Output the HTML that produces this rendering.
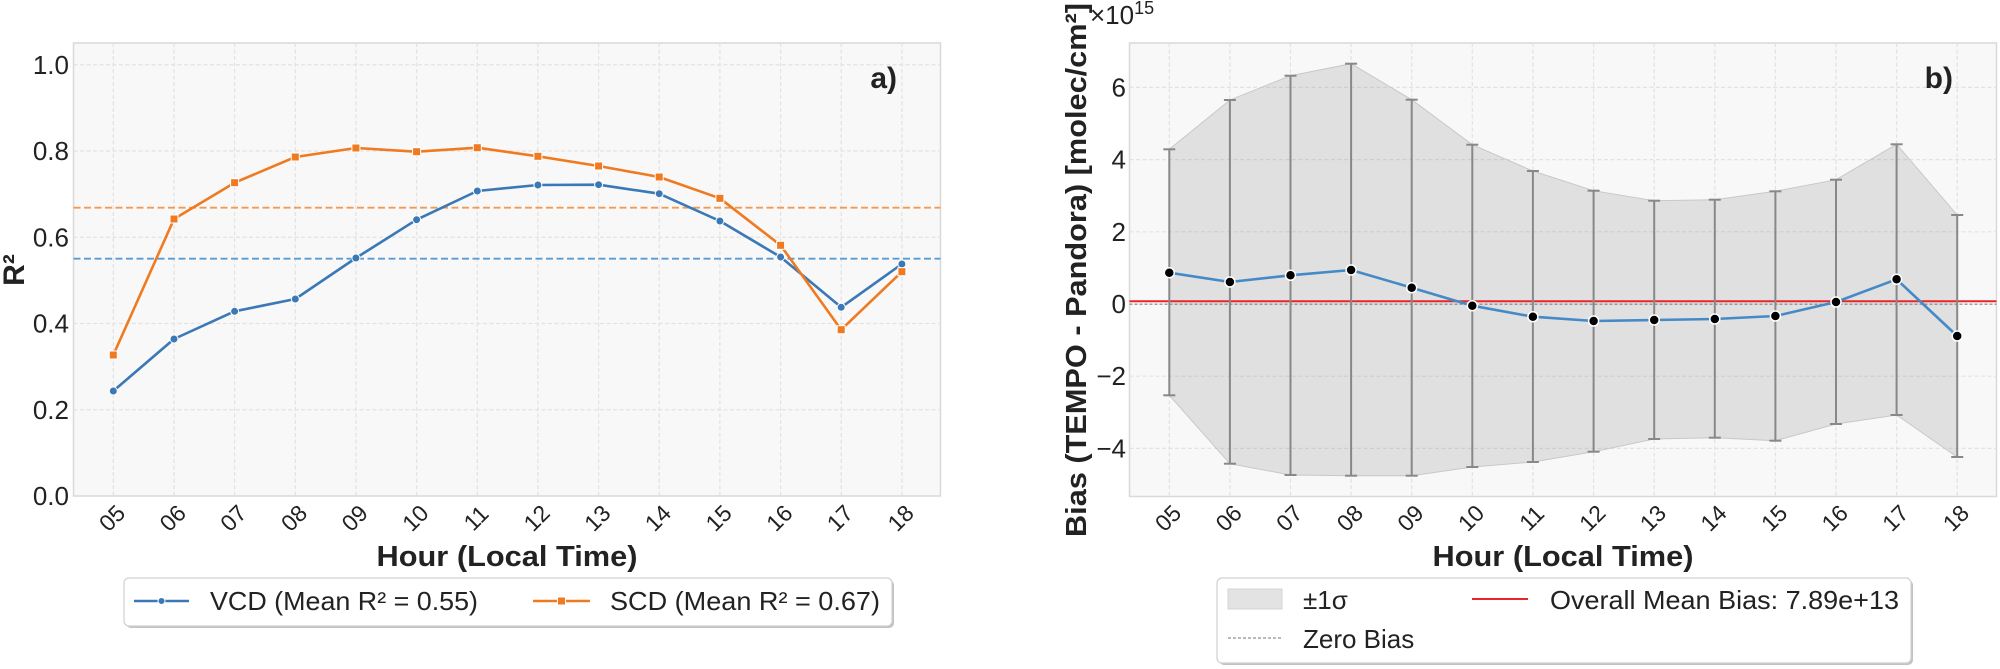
<!DOCTYPE html>
<html><head><meta charset="utf-8"><style>
html,body{margin:0;padding:0;background:#fff;}
svg{display:block;}
text{font-family:"Liberation Sans",Arial,sans-serif;fill:#222;}
</style></head><body>
<svg width="2000" height="669" viewBox="0 0 2000 669" xmlns="http://www.w3.org/2000/svg">
<rect width="2000" height="669" fill="#fff"/>

<!-- ===== LEFT PANEL ===== -->
<rect x="73.5" y="43" width="867" height="453" fill="#f8f8f8" stroke="#d9d9d9" stroke-width="1.5"/>
<g stroke="#e2e2e2" stroke-width="1.2" stroke-dasharray="4,2.5">
<line x1="73.5" x2="940.5" y1="409.75" y2="409.75"/>
<line x1="73.5" x2="940.5" y1="323.5" y2="323.5"/>
<line x1="73.5" x2="940.5" y1="237.25" y2="237.25"/>
<line x1="73.5" x2="940.5" y1="151" y2="151"/>
<line x1="73.5" x2="940.5" y1="64.75" y2="64.75"/>
<line y1="43" y2="496" x1="113.3" x2="113.3"/>
<line y1="43" y2="496" x1="174" x2="174"/>
<line y1="43" y2="496" x1="234.6" x2="234.6"/>
<line y1="43" y2="496" x1="295.3" x2="295.3"/>
<line y1="43" y2="496" x1="355.9" x2="355.9"/>
<line y1="43" y2="496" x1="416.6" x2="416.6"/>
<line y1="43" y2="496" x1="477.3" x2="477.3"/>
<line y1="43" y2="496" x1="537.9" x2="537.9"/>
<line y1="43" y2="496" x1="598.6" x2="598.6"/>
<line y1="43" y2="496" x1="659.2" x2="659.2"/>
<line y1="43" y2="496" x1="719.9" x2="719.9"/>
<line y1="43" y2="496" x1="780.6" x2="780.6"/>
<line y1="43" y2="496" x1="841.2" x2="841.2"/>
<line y1="43" y2="496" x1="901.9" x2="901.9"/>
</g>
<!-- mean lines -->
<line x1="73.5" x2="940.5" y1="207.7" y2="207.7" stroke="#f39a52" stroke-width="1.8" stroke-dasharray="7,3.5"/>
<line x1="73.5" x2="940.5" y1="258.7" y2="258.7" stroke="#5b9bd0" stroke-width="1.8" stroke-dasharray="7,3.5"/>
<!-- VCD -->
<polyline fill="none" stroke="#3a78b6" stroke-width="2.6" stroke-linejoin="round" points="113.3,391 174,339 234.6,311.3 295.3,299 355.9,258 416.6,219.7 477.3,191 537.9,185 598.6,184.7 659.2,193.7 719.9,221 780.6,257 841.2,307.3 901.9,264"/>
<g fill="#3a78b6" stroke="#fff" stroke-width="1">
<circle cx="113.3" cy="391" r="4"/><circle cx="174" cy="339" r="4"/><circle cx="234.6" cy="311.3" r="4"/><circle cx="295.3" cy="299" r="4"/><circle cx="355.9" cy="258" r="4"/><circle cx="416.6" cy="219.7" r="4"/><circle cx="477.3" cy="191" r="4"/><circle cx="537.9" cy="185" r="4"/><circle cx="598.6" cy="184.7" r="4"/><circle cx="659.2" cy="193.7" r="4"/><circle cx="719.9" cy="221" r="4"/><circle cx="780.6" cy="257" r="4"/><circle cx="841.2" cy="307.3" r="4"/><circle cx="901.9" cy="264" r="4"/>
</g>
<!-- SCD -->
<polyline fill="none" stroke="#f07a20" stroke-width="2.6" stroke-linejoin="round" points="113.3,355 174,219 234.6,182.7 295.3,157 355.9,148 416.6,151.7 477.3,147.7 537.9,156.3 598.6,166 659.2,177 719.9,198.3 780.6,245.3 841.2,329.7 901.9,271.7"/>
<g fill="#f07a20" stroke="#fff" stroke-width="1">
<rect x="109.3" y="351" width="8" height="8"/><rect x="170" y="215" width="8" height="8"/><rect x="230.6" y="178.7" width="8" height="8"/><rect x="291.3" y="153" width="8" height="8"/><rect x="351.9" y="144" width="8" height="8"/><rect x="412.6" y="147.7" width="8" height="8"/><rect x="473.3" y="143.7" width="8" height="8"/><rect x="533.9" y="152.3" width="8" height="8"/><rect x="594.6" y="162" width="8" height="8"/><rect x="655.2" y="173" width="8" height="8"/><rect x="715.9" y="194.3" width="8" height="8"/><rect x="776.6" y="241.3" width="8" height="8"/><rect x="837.2" y="325.7" width="8" height="8"/><rect x="897.9" y="267.7" width="8" height="8"/>
</g>
<text x="897" y="88" font-size="30" font-weight="bold" text-anchor="end">a)</text>
<!-- y ticks left -->
<g font-size="26" text-anchor="end">
<text x="69" y="505">0.0</text>
<text x="69" y="418.75">0.2</text>
<text x="69" y="332.5">0.4</text>
<text x="69" y="246.25">0.6</text>
<text x="69" y="160">0.8</text>
<text x="69" y="73.75">1.0</text>
</g>
<text transform="translate(24,270) rotate(-90)" font-size="30" font-weight="bold" text-anchor="middle">R²</text>
<!-- x ticks left -->
<g font-size="23" text-anchor="middle" dominant-baseline="central">
<text transform="translate(112,518) rotate(-45)">05</text>
<text transform="translate(172.7,518) rotate(-45)">06</text>
<text transform="translate(233.3,518) rotate(-45)">07</text>
<text transform="translate(294,518) rotate(-45)">08</text>
<text transform="translate(354.6,518) rotate(-45)">09</text>
<text transform="translate(415.3,518) rotate(-45)">10</text>
<text transform="translate(476,518) rotate(-45)">11</text>
<text transform="translate(536.6,518) rotate(-45)">12</text>
<text transform="translate(597.3,518) rotate(-45)">13</text>
<text transform="translate(657.9,518) rotate(-45)">14</text>
<text transform="translate(718.6,518) rotate(-45)">15</text>
<text transform="translate(779.3,518) rotate(-45)">16</text>
<text transform="translate(839.9,518) rotate(-45)">17</text>
<text transform="translate(900.6,518) rotate(-45)">18</text>
</g>
<text x="507" y="566" font-size="29" font-weight="bold" text-anchor="middle" textLength="261" lengthAdjust="spacingAndGlyphs">Hour (Local Time)</text>
<!-- left legend -->
<rect x="126" y="580" width="768" height="48" rx="5" fill="#9a9a9a" opacity="0.6"/>
<rect x="124" y="578" width="768" height="48" rx="5" fill="#fff" stroke="#d0d0d0" stroke-width="1.2"/>
<line x1="134" x2="189" y1="601" y2="601" stroke="#3a78b6" stroke-width="2.6"/>
<circle cx="161.5" cy="601" r="3.5" fill="#3a78b6" stroke="#fff" stroke-width="1"/>
<text x="210" y="610" font-size="26" textLength="268" lengthAdjust="spacingAndGlyphs">VCD (Mean R² = 0.55)</text>
<line x1="533" x2="590" y1="601" y2="601" stroke="#f07a20" stroke-width="2.6"/>
<rect x="557.5" y="597" width="8" height="8" fill="#f07a20" stroke="#fff" stroke-width="1"/>
<text x="610" y="610" font-size="26" textLength="270" lengthAdjust="spacingAndGlyphs">SCD (Mean R² = 0.67)</text>

<!-- ===== RIGHT PANEL ===== -->
<rect x="1129.5" y="43" width="867" height="453.5" fill="#f8f8f8" stroke="#d9d9d9" stroke-width="1.5"/>
<g stroke="#e2e2e2" stroke-width="1.2" stroke-dasharray="4,2.5">
<line x1="1129.5" x2="1996.5" y1="87.4" y2="87.4"/>
<line x1="1129.5" x2="1996.5" y1="159.6" y2="159.6"/>
<line x1="1129.5" x2="1996.5" y1="231.8" y2="231.8"/>
<line x1="1129.5" x2="1996.5" y1="376.2" y2="376.2"/>
<line x1="1129.5" x2="1996.5" y1="448.4" y2="448.4"/>
<line y1="43" y2="496.5" x1="1169.3" x2="1169.3"/>
<line y1="43" y2="496.5" x1="1229.9" x2="1229.9"/>
<line y1="43" y2="496.5" x1="1290.5" x2="1290.5"/>
<line y1="43" y2="496.5" x1="1351.1" x2="1351.1"/>
<line y1="43" y2="496.5" x1="1411.7" x2="1411.7"/>
<line y1="43" y2="496.5" x1="1472.3" x2="1472.3"/>
<line y1="43" y2="496.5" x1="1532.9" x2="1532.9"/>
<line y1="43" y2="496.5" x1="1593.6" x2="1593.6"/>
<line y1="43" y2="496.5" x1="1654.2" x2="1654.2"/>
<line y1="43" y2="496.5" x1="1714.8" x2="1714.8"/>
<line y1="43" y2="496.5" x1="1775.4" x2="1775.4"/>
<line y1="43" y2="496.5" x1="1836" x2="1836" />
<line y1="43" y2="496.5" x1="1896.6" x2="1896.6"/>
<line y1="43" y2="496.5" x1="1957.2" x2="1957.2"/>
</g>
<!-- sigma band -->
<polygon fill="rgba(128,128,128,0.2)" stroke="#c8c8c8" stroke-width="1" points="1169.3,149.3 1229.9,100 1290.5,75.7 1351.1,63.7 1411.7,99.7 1472.3,144.7 1532.9,171 1593.6,190.7 1654.2,200.7 1714.8,199.7 1775.4,191.3 1836,179.7 1896.6,144.3 1957.2,215 1957.2,457 1896.6,415 1836,424 1775.4,440.7 1714.8,437.7 1654.2,439 1593.6,451.7 1532.9,462 1472.3,467 1411.7,475.7 1351.1,475.7 1290.5,475 1229.9,463.7 1169.3,395.3"/>
<!-- zero & mean lines -->
<line x1="1129.5" x2="1996.5" y1="304.2" y2="304.2" stroke="#808080" stroke-width="1.2" stroke-dasharray="3,2"/>
<line x1="1129.5" x2="1996.5" y1="301.3" y2="301.3" stroke="#e8262a" stroke-width="2"/>
<!-- error bars -->
<g stroke="#888" stroke-width="2">
<line x1="1169.3" x2="1169.3" y1="149.3" y2="395.3"/><line x1="1163.3" x2="1175.3" y1="149.3" y2="149.3"/><line x1="1163.3" x2="1175.3" y1="395.3" y2="395.3"/>
<line x1="1229.9" x2="1229.9" y1="100" y2="463.7"/><line x1="1223.9" x2="1235.9" y1="100" y2="100"/><line x1="1223.9" x2="1235.9" y1="463.7" y2="463.7"/>
<line x1="1290.5" x2="1290.5" y1="75.7" y2="475"/><line x1="1284.5" x2="1296.5" y1="75.7" y2="75.7"/><line x1="1284.5" x2="1296.5" y1="475" y2="475"/>
<line x1="1351.1" x2="1351.1" y1="63.7" y2="475.7"/><line x1="1345.1" x2="1357.1" y1="63.7" y2="63.7"/><line x1="1345.1" x2="1357.1" y1="475.7" y2="475.7"/>
<line x1="1411.7" x2="1411.7" y1="99.7" y2="475.7"/><line x1="1405.7" x2="1417.7" y1="99.7" y2="99.7"/><line x1="1405.7" x2="1417.7" y1="475.7" y2="475.7"/>
<line x1="1472.3" x2="1472.3" y1="144.7" y2="467"/><line x1="1466.3" x2="1478.3" y1="144.7" y2="144.7"/><line x1="1466.3" x2="1478.3" y1="467" y2="467"/>
<line x1="1532.9" x2="1532.9" y1="171" y2="462"/><line x1="1526.9" x2="1538.9" y1="171" y2="171"/><line x1="1526.9" x2="1538.9" y1="462" y2="462"/>
<line x1="1593.6" x2="1593.6" y1="190.7" y2="451.7"/><line x1="1587.6" x2="1599.6" y1="190.7" y2="190.7"/><line x1="1587.6" x2="1599.6" y1="451.7" y2="451.7"/>
<line x1="1654.2" x2="1654.2" y1="200.7" y2="439"/><line x1="1648.2" x2="1660.2" y1="200.7" y2="200.7"/><line x1="1648.2" x2="1660.2" y1="439" y2="439"/>
<line x1="1714.8" x2="1714.8" y1="199.7" y2="437.7"/><line x1="1708.8" x2="1720.8" y1="199.7" y2="199.7"/><line x1="1708.8" x2="1720.8" y1="437.7" y2="437.7"/>
<line x1="1775.4" x2="1775.4" y1="191.3" y2="440.7"/><line x1="1769.4" x2="1781.4" y1="191.3" y2="191.3"/><line x1="1769.4" x2="1781.4" y1="440.7" y2="440.7"/>
<line x1="1836" x2="1836" y1="179.7" y2="424"/><line x1="1830" x2="1842" y1="179.7" y2="179.7"/><line x1="1830" x2="1842" y1="424" y2="424"/>
<line x1="1896.6" x2="1896.6" y1="144.3" y2="415"/><line x1="1890.6" x2="1902.6" y1="144.3" y2="144.3"/><line x1="1890.6" x2="1902.6" y1="415" y2="415"/>
<line x1="1957.2" x2="1957.2" y1="215" y2="457"/><line x1="1951.2" x2="1963.2" y1="215" y2="215"/><line x1="1951.2" x2="1963.2" y1="457" y2="457"/>
</g>
<polyline fill="none" stroke="#448ac6" stroke-width="2.6" stroke-linejoin="round" points="1169.3,272.7 1229.9,282 1290.5,275.3 1351.1,270 1411.7,287.7 1472.3,305.7 1532.9,316.7 1593.6,321 1654.2,320 1714.8,319 1775.4,316 1836,302 1896.6,279.3 1957.2,336"/>
<g fill="#000" stroke="#fff" stroke-width="1.5">
<circle cx="1169.3" cy="272.7" r="5"/><circle cx="1229.9" cy="282" r="5"/><circle cx="1290.5" cy="275.3" r="5"/><circle cx="1351.1" cy="270" r="5"/><circle cx="1411.7" cy="287.7" r="5"/><circle cx="1472.3" cy="305.7" r="5"/><circle cx="1532.9" cy="316.7" r="5"/><circle cx="1593.6" cy="321" r="5"/><circle cx="1654.2" cy="320" r="5"/><circle cx="1714.8" cy="319" r="5"/><circle cx="1775.4" cy="316" r="5"/><circle cx="1836" cy="302" r="5"/><circle cx="1896.6" cy="279.3" r="5"/><circle cx="1957.2" cy="336" r="5"/>
</g>
<text x="1953" y="88" font-size="30" font-weight="bold" text-anchor="end">b)</text>
<!-- y ticks right -->
<g font-size="26" text-anchor="end">
<text x="1126" y="96.4">6</text>
<text x="1126" y="168.6">4</text>
<text x="1126" y="240.8">2</text>
<text x="1126" y="313">0</text>
<text x="1126" y="385.2">−2</text>
<text x="1126" y="457.4">−4</text>
</g>
<text x="1090" y="24" font-size="26">×10<tspan font-size="18" dy="-10">15</tspan></text>
<text transform="translate(1086,270) rotate(-90)" font-size="29" font-weight="bold" text-anchor="middle" textLength="534" lengthAdjust="spacingAndGlyphs">Bias (TEMPO - Pandora) [molec/cm²]</text>
<!-- x ticks right -->
<g font-size="23" text-anchor="middle" dominant-baseline="central">
<text transform="translate(1168,518) rotate(-45)">05</text>
<text transform="translate(1228.6,518) rotate(-45)">06</text>
<text transform="translate(1289.2,518) rotate(-45)">07</text>
<text transform="translate(1349.8,518) rotate(-45)">08</text>
<text transform="translate(1410.4,518) rotate(-45)">09</text>
<text transform="translate(1471,518) rotate(-45)">10</text>
<text transform="translate(1531.6,518) rotate(-45)">11</text>
<text transform="translate(1592.3,518) rotate(-45)">12</text>
<text transform="translate(1652.9,518) rotate(-45)">13</text>
<text transform="translate(1713.5,518) rotate(-45)">14</text>
<text transform="translate(1774.1,518) rotate(-45)">15</text>
<text transform="translate(1834.7,518) rotate(-45)">16</text>
<text transform="translate(1895.3,518) rotate(-45)">17</text>
<text transform="translate(1955.9,518) rotate(-45)">18</text>
</g>
<text x="1563" y="566" font-size="29" font-weight="bold" text-anchor="middle" textLength="261" lengthAdjust="spacingAndGlyphs">Hour (Local Time)</text>
<!-- right legend -->
<rect x="1219" y="580" width="694" height="85" rx="5" fill="#9a9a9a" opacity="0.6"/>
<rect x="1217" y="578" width="694" height="85" rx="5" fill="#fff" stroke="#d0d0d0" stroke-width="1.2"/>
<rect x="1228" y="589" width="54" height="20" fill="#e3e3e3" stroke="#d4d4d4" stroke-width="1"/>
<text x="1303" y="609" font-size="26">±1σ</text>
<line x1="1472" x2="1528" y1="599" y2="599" stroke="#e8262a" stroke-width="2"/>
<text x="1550" y="609" font-size="26" textLength="349" lengthAdjust="spacingAndGlyphs">Overall Mean Bias: 7.89e+13</text>
<line x1="1228" x2="1282" y1="638" y2="638" stroke="#909090" stroke-width="1.2" stroke-dasharray="3,2"/>
<text x="1303" y="648" font-size="26">Zero Bias</text>
</svg>
</body></html>
